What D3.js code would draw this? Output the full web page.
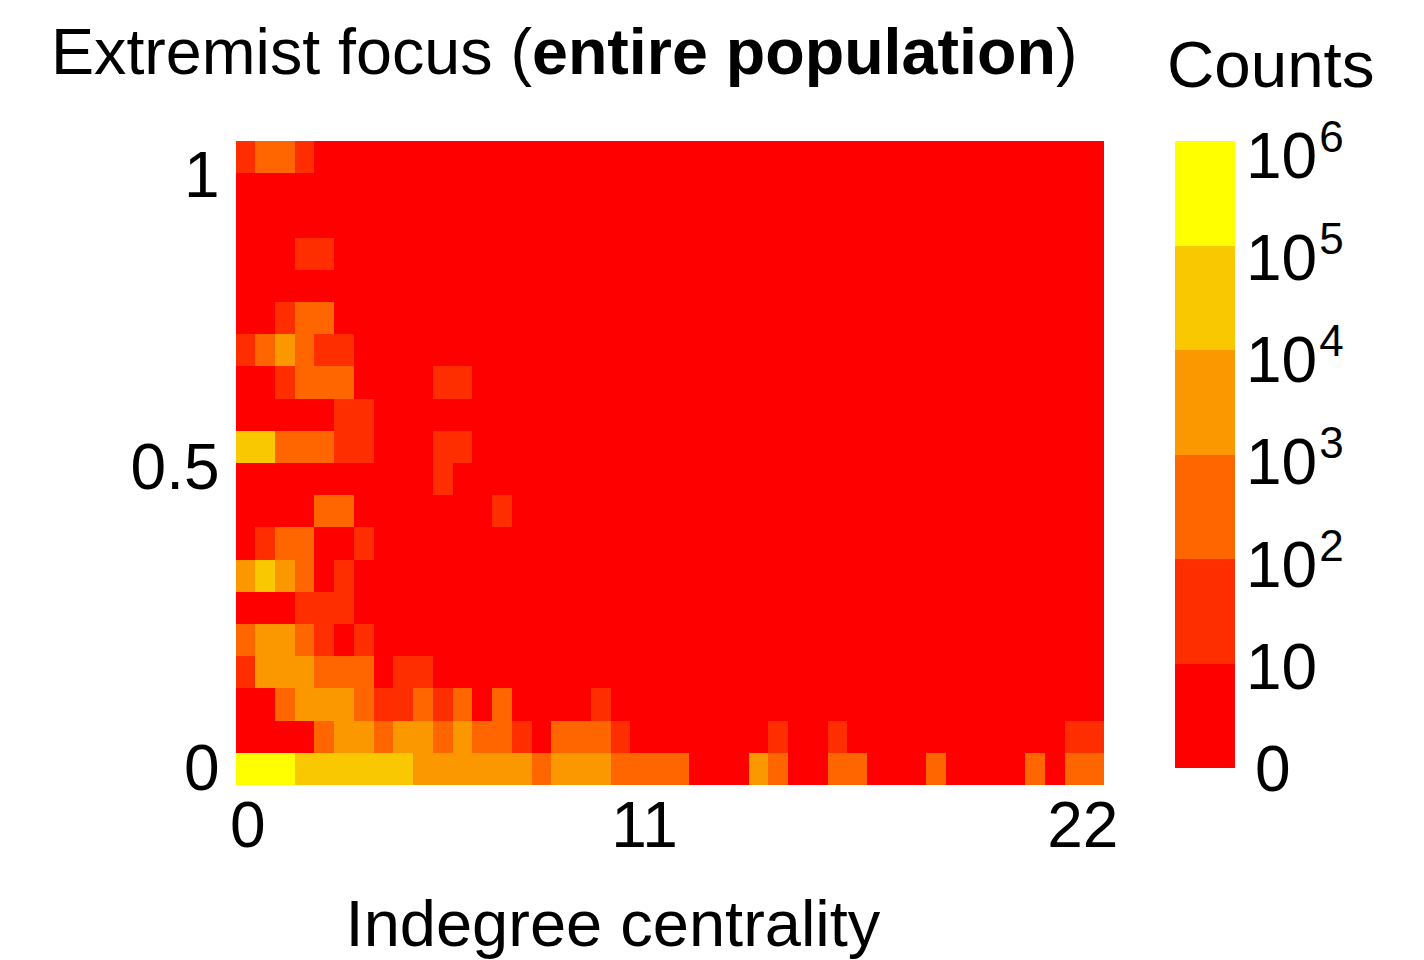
<!DOCTYPE html>
<html>
<head>
<title>Extremist focus</title>
<script src="https://d3js.org/d3.v7.min.js"></script>
<style>
  body { margin: 0; background: white; }
  text { font-family: "Liberation Sans", Arial, Helvetica, sans-serif; fill: black; }
</style>
</head>
<body>
<svg id="chart" width="1424" height="960"></svg>
<script>
// order of magnitude of the count in every bin:
// 0 -> 0..10, 1 -> 10..10^2, 2 -> 10^2..10^3, 3 -> 10^3..10^4, 4 -> 10^4..10^5, 5 -> 10^5..10^6
// rows go from extremist focus = 1 (top) down to 0 (bottom), 44 indegree bins per row
const countLevels = [
  "12210000000000000000000000000000000000000000",
  "00000000000000000000000000000000000000000000",
  "00000000000000000000000000000000000000000000",
  "00011000000000000000000000000000000000000000",
  "00000000000000000000000000000000000000000000",
  "00122000000000000000000000000000000000000000",
  "12321100000000000000000000000000000000000000",
  "00122200001100000000000000000000000000000000",
  "00000110000000000000000000000000000000000000",
  "44222110001100000000000000000000000000000000",
  "00000000001000000000000000000000000000000000",
  "00002200000001000000000000000000000000000000",
  "01220010000000000000000000000000000000000000",
  "34320100000000000000000000000000000000000000",
  "00011100000000000000000000000000000000000000",
  "23321010000000000000000000000000000000000000",
  "13332220110000000000000000000000000000000000",
  "00233321121202000010000000000000000000000000",
  "00002332332322102221000000010010000000000011",
  "55544444433333323332222000320022000200002022"
];

const xTickPos = [0.6, 20.7, 42.9];       // in bin units
const xTickLabels = ["0", "11", "22"];
const yTickPos = [0.5, 9.85, 18.9];       // in bin units
const yTickLabels = ["0", "0.5", "1"];

const legendColors = ["#ff0000", "#ff2e00", "#ff6600", "#fb9800", "#f9c800", "#ffff00"];
const legendBase = ["0", "10", "10", "10", "10", "10", "10"];
const legendExp = ["", "", "2", "3", "4", "5", "6"];

const nRows = countLevels.length;
const nCols = countLevels[0].length;

const cells = [];
countLevels.forEach((row, t) => {
  row.split("").forEach((ch, c) => {
    cells.push({ col: c, row: nRows - 1 - t, level: +ch });
  });
});

const svg = d3.select("#chart");
const fs = 64;

const x = d3.scaleLinear().domain([0, nCols]).range([235.5, 1104]);
const y = d3.scaleLinear().domain([0, nRows]).range([785, 141]);
const color = d3.scaleOrdinal().domain(d3.range(6)).range(legendColors);

svg.append("g")
  .selectAll("rect")
  .data(cells)
  .join("rect")
  .attr("x", d => x(d.col))
  .attr("y", d => y(d.row + 1))
  .attr("width", x(1) - x(0) + 0.3)
  .attr("height", y(0) - y(1) + 0.3)
  .attr("fill", d => color(d.level))
  .attr("shape-rendering", "crispEdges");

// axes (labels only, no lines)
const xAxis = d3.axisBottom(x)
  .tickValues(xTickPos)
  .tickFormat((d, i) => xTickLabels[i])
  .tickSize(0)
  .tickPadding(17);
svg.append("g")
  .attr("transform", `translate(0,${y(0)})`)
  .call(xAxis)
  .call(g => g.select(".domain").remove())
  .selectAll("text")
  .attr("font-size", fs)
  .attr("font-family", null);

const yAxis = d3.axisLeft(y)
  .tickValues(yTickPos)
  .tickFormat((d, i) => yTickLabels[i])
  .tickSize(0)
  .tickPadding(16);
svg.append("g")
  .attr("transform", `translate(${x(0)},0)`)
  .call(yAxis)
  .call(g => g.select(".domain").remove())
  .selectAll("text")
  .attr("font-size", fs)
  .attr("font-family", null);

// title
const title = svg.append("text")
  .attr("x", 51)
  .attr("y", 74)
  .attr("font-size", 64.6);
title.append("tspan").text("Extremist focus (");
title.append("tspan").attr("font-weight", "bold").text("entire population");
title.append("tspan").text(")");

svg.append("text")
  .attr("x", 613)
  .attr("y", 946)
  .attr("text-anchor", "middle")
  .attr("font-size", 65)
  .text("Indegree centrality");

// colour bar
const legendY = d3.scaleLinear().domain([0, 6]).range([768, 141]);
const legendLabelY = d3.scaleLinear().domain([0, 6]).range([768, 155]);

svg.append("text")
  .attr("x", 1167)
  .attr("y", 87)
  .attr("font-size", 65.5)
  .text("Counts");

svg.append("g")
  .selectAll("rect")
  .data(legendColors)
  .join("rect")
  .attr("x", 1175)
  .attr("width", 60)
  .attr("y", (d, i) => legendY(i + 1))
  .attr("height", (d, i) => legendY(i) - legendY(i + 1) + 0.3)
  .attr("fill", d => d)
  .attr("shape-rendering", "crispEdges");

const lab = svg.append("g")
  .selectAll("text")
  .data(legendBase)
  .join("text")
  .attr("x", (d, i) => i === 0 ? 1255 : 1246)
  .attr("y", (d, i) => legendLabelY(i) + 0.358 * fs)
  .attr("font-size", fs);
lab.append("tspan").text(d => d);
lab.append("tspan")
  .attr("font-size", 44)
  .attr("dy", -26)
  .attr("dx", 2)
  .text((d, i) => legendExp[i]);
</script>
</body>
</html>
